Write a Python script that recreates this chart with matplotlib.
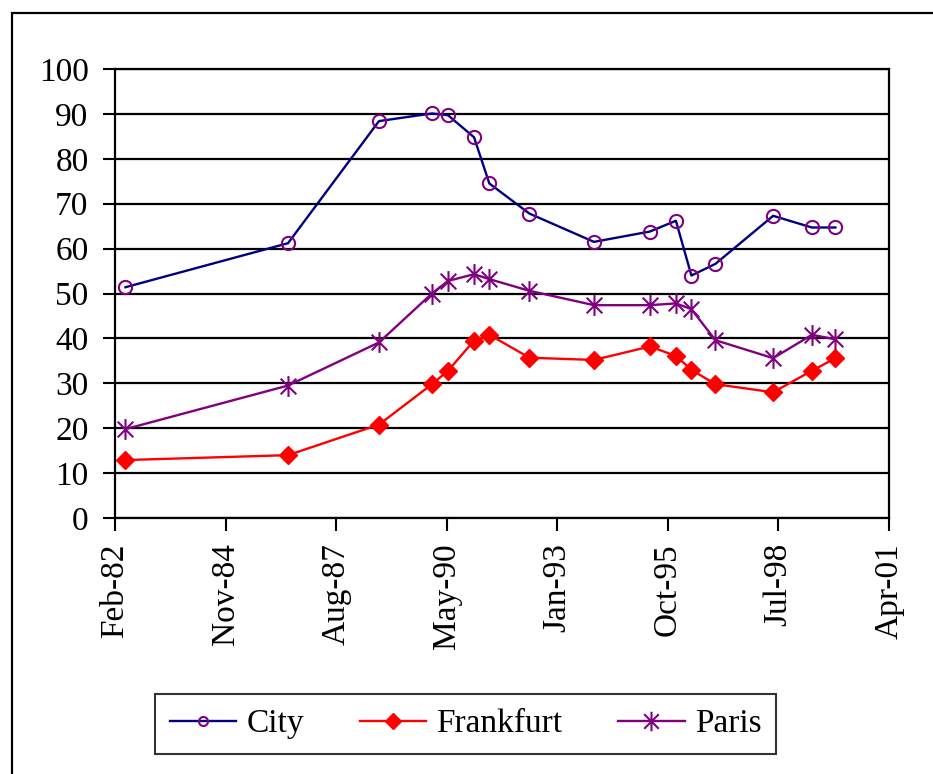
import numpy as np
import pandas as pd
import matplotlib
matplotlib.use("Agg")
import matplotlib.pyplot as plt
import matplotlib.dates as mdates
from matplotlib.path import Path
from matplotlib.patches import Rectangle

# Datos (fechas de observacion y valores por ciudad)
fechas = pd.to_datetime([
    "1982-05-07", "1986-05-22", "1988-08-25", "1989-12-19",
    "1990-05-14", "1991-01-05", "1991-05-24", "1992-05-22",
    "1993-12-29", "1995-05-21", "1996-01-12", "1996-06-01",
    "1997-01-05", "1998-06-13", "1999-05-31", "1999-12-30",
])
city = [51.4, 61.2, 88.4, 90.1, 89.7, 84.8, 74.5, 67.8,
        61.5, 63.8, 66.2, 54.0, 56.6, 67.3, 64.7, 64.7]
frankfurt = [12.9, 14.0, 20.8, 29.8, 32.8, 39.5, 40.8, 35.7,
             35.2, 38.2, 36.1, 33.0, 29.8, 28.0, 32.8, 35.6]
paris = [19.8, 29.5, 39.1, 50.0, 52.8, 54.3, 53.2, 50.6,
         47.4, 47.4, 47.8, 46.5, 39.6, 35.6, 40.8, 39.8]

# Eje de fechas: inicio, paso entre marcas (dias) y numero de marcas
inicio_eje = pd.Timestamp("1982-02-01")
paso_dias = 1004
n_marcas = 8

plt.rcParams["font.family"] = ["Liberation Serif", "DejaVu Serif"]

# marcador tipo asterisco de Excel (X con barra vertical)
estrella = Path(
    [(0, -1), (0, 1), (-0.75, -0.75), (0.75, 0.75), (-0.75, 0.75), (0.75, -0.75)],
    [Path.MOVETO, Path.LINETO, Path.MOVETO, Path.LINETO, Path.MOVETO, Path.LINETO],
)

fig = plt.figure(figsize=(9.33, 7.74), dpi=100)
ax = fig.add_axes([115 / 933, 1 - 518 / 774, 774 / 933, 449 / 774])

# marco exterior del grafico
fig.patches.append(Rectangle((12 / 933, -0.1), 1.2, 1.1 - 13.5 / 774,
                             transform=fig.transFigure, fill=False,
                             edgecolor="black", linewidth=1.6))

ax.plot(fechas, city, color="#000080", lw=1.7, marker="o", ms=9.5,
        mfc="none", mec="#800080", mew=1.5, label="City", zorder=3)
ax.plot(fechas, frankfurt, color="#FF0000", lw=1.7, marker="D", ms=9,
        mfc="#FF0000", mec="#FF0000", label="Frankfurt", zorder=3)
ax.plot(fechas, paris, color="#800080", lw=1.7, marker=estrella, ms=15,
        mec="#800080", mew=1.5, label="Paris", zorder=3)

marcas = [inicio_eje + pd.Timedelta(days=paso_dias * k) for k in range(n_marcas)]
ax.set_xlim(marcas[0], marcas[-1])
ax.set_xticks(marcas)
ax.xaxis.set_major_formatter(mdates.DateFormatter("%b-%y"))
ax.set_ylim(0, 100)
ax.set_yticks(np.arange(0, 101, 10))

ax.yaxis.grid(True, color="black", lw=1.6)
ax.set_axisbelow(True)
for s in ax.spines.values():
    s.set_linewidth(1.6)

ax.tick_params(axis="y", direction="out", length=9, width=1.5, labelsize=24, pad=10)
ax.tick_params(axis="x", direction="out", length=9, width=1.5, labelsize=24,
               pad=9, labelrotation=90)

leyenda = fig.legend(loc="center", bbox_to_anchor=(465.5 / 933, 1 - 724 / 774), ncol=3,
                     fontsize=24, frameon=True, fancybox=False, edgecolor="black",
                     handlelength=2.0, handletextpad=0.3, columnspacing=1.67,
                     borderpad=0.45)
leyenda.get_frame().set_linewidth(1.5)
# en la leyenda el circulo es mas pequeno
leyenda.legend_handles[0].set_markersize(6.5)
leyenda.legend_handles[1].set_markersize(8)
leyenda.legend_handles[2].set_markersize(14)

fig.savefig("out.png", dpi=100)
